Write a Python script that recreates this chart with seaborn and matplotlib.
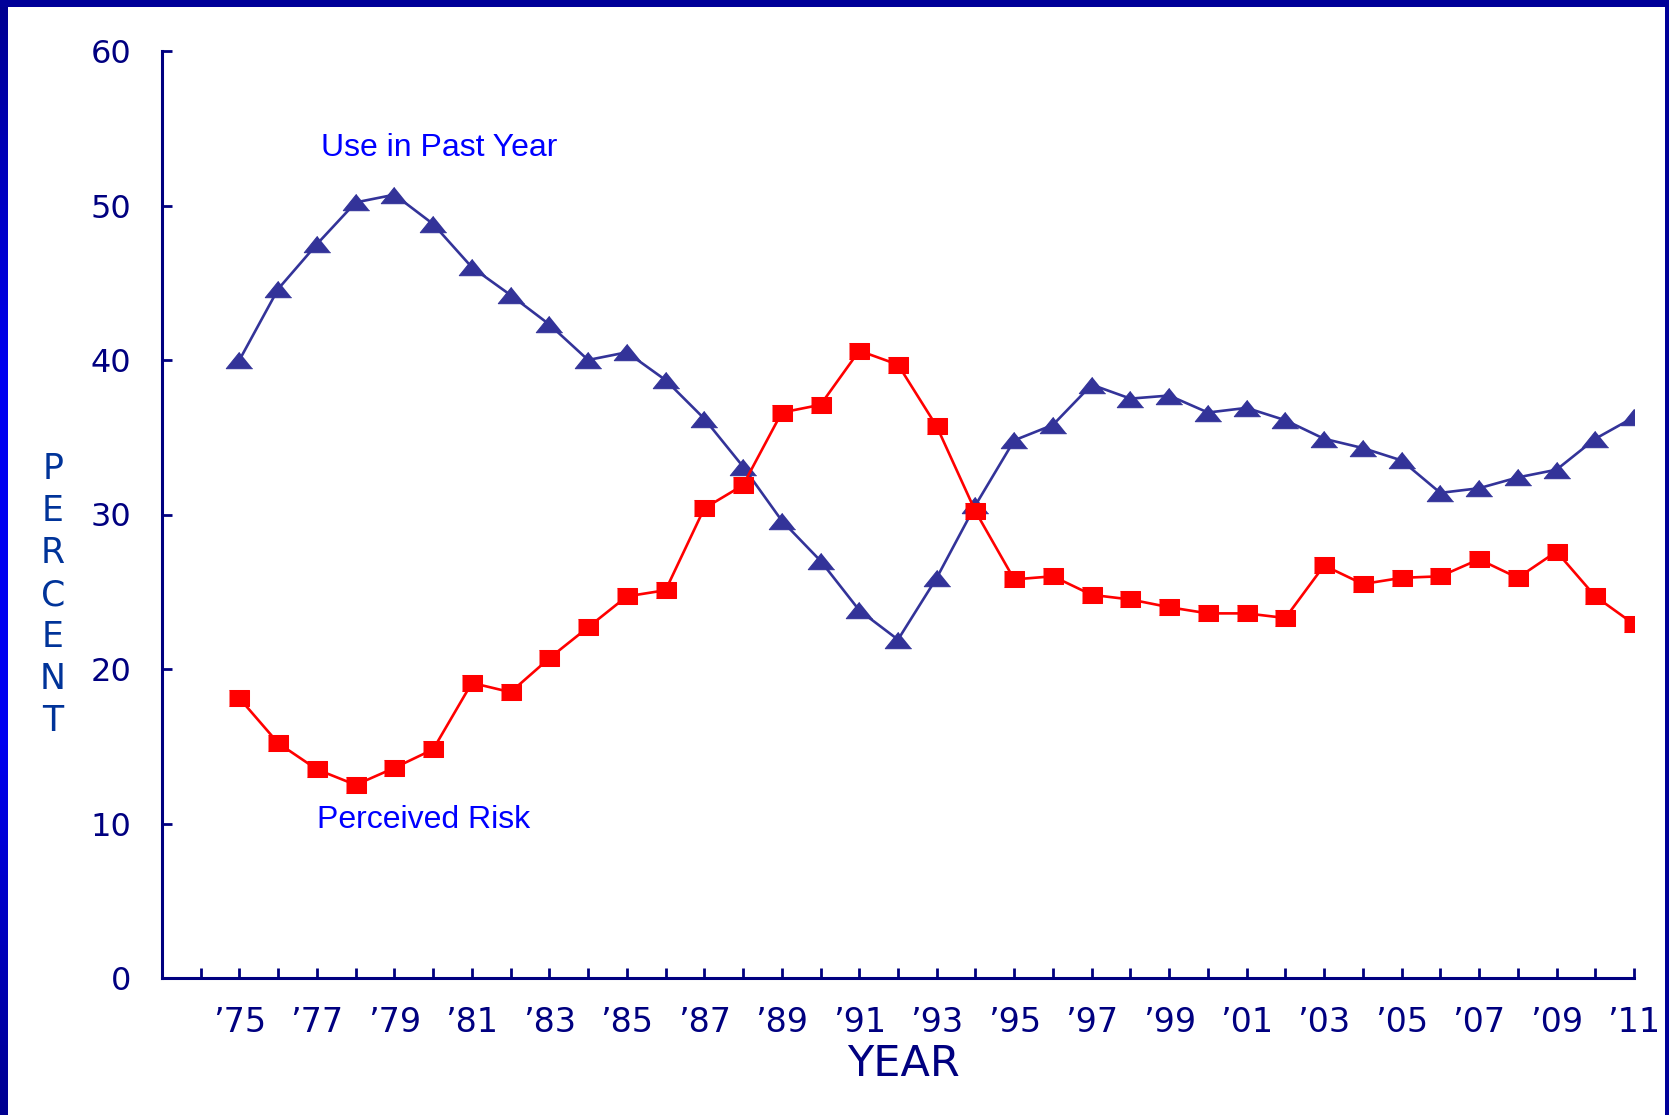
import numpy as np
import pandas as pd
import matplotlib
matplotlib.use("Agg")
import matplotlib.pyplot as plt
from matplotlib.colors import LinearSegmentedColormap
import seaborn as sns

years = list(range(1975, 2012))
use_past_year = [40.0, 44.6, 47.5, 50.2, 50.7, 48.8, 46.0, 44.2, 42.3, 40.0,
                 40.5, 38.7, 36.2, 33.1, 29.6, 27.0, 23.8, 21.9, 25.9, 30.6,
                 34.8, 35.8, 38.4, 37.5, 37.7, 36.6, 36.9, 36.1, 34.9, 34.3,
                 33.5, 31.4, 31.7, 32.4, 32.9, 34.9, 36.3]
perceived_risk = [18.1, 15.2, 13.5, 12.5, 13.6, 14.8, 19.1, 18.5, 20.7, 22.7,
                  24.7, 25.1, 30.4, 31.9, 36.6, 37.1, 40.6, 39.7, 35.7, 30.2,
                  25.8, 26.0, 24.8, 24.5, 24.0, 23.6, 23.6, 23.3, 26.7, 25.5,
                  25.9, 26.0, 27.1, 25.9, 27.6, 24.7, 22.9]
tick_years = list(range(1974, 2012))
tick_labels = ["\u2019%02d" % (y % 100) if y % 2 == 1 else "" for y in tick_years]
y_ticks = [0, 10, 20, 30, 40, 50, 60]

df = pd.DataFrame({"year": years, "use": use_past_year, "risk": perceived_risk})

sns.set_style("white")
plt.rcParams['font.family'] = ['DejaVu Sans']

W, H = 1669, 1115
fig = plt.figure(figsize=(W / 100, H / 100), dpi=100)
fig.patch.set_facecolor("white")

ax = fig.add_axes([162 / W, 1 - 978 / H, (1634 - 162) / W, (978 - 51) / H])

navy = "#000080"
tri_col = "#333399"
red = "#FF0000"

tri_marker = [(0, 0.62), (-1, -0.62), (1, -0.62)]
rect_marker = [(-1.25, -0.9), (1.25, -0.9), (1.25, 0.9), (-1.25, 0.9)]

sns.lineplot(data=df, x="year", y="use", ax=ax, color=tri_col, linewidth=1.9,
             marker=tri_marker, markersize=19, markeredgecolor=tri_col,
             markerfacecolor=tri_col, zorder=3)
sns.lineplot(data=df, x="year", y="risk", ax=ax, color=red, linewidth=1.9,
             marker=rect_marker, markersize=15, markeredgecolor=red,
             markerfacecolor=red, zorder=4)

ax.set_xlim(1973, 2011)
ax.set_ylim(0, 60)
ax.set_xticks(tick_years)
ax.set_xticklabels(tick_labels)
ax.set_yticks(y_ticks)
ax.set_yticklabels([str(v) for v in y_ticks])
ax.set_xlabel("")
ax.set_ylabel("")

for s in ["top", "right"]:
    ax.spines[s].set_visible(False)
for s in ["left", "bottom"]:
    ax.spines[s].set_color(navy)
    ax.spines[s].set_linewidth(2.2)

ax.tick_params(axis="x", bottom=True, direction="in", length=7, width=2, color=navy,
               labelcolor=navy, labelsize=24, pad=20)
ax.tick_params(axis="y", left=True, direction="in", length=7, width=2, color=navy,
               labelcolor=navy, labelsize=23, pad=22)
for lab in ax.get_xticklabels() + ax.get_yticklabels():
    lab.set_fontfamily(['DejaVu Sans'])

ax.text(1977.1, 53.7, "Use in Past Year", color="#0000FF", fontsize=23,
        family=["Liberation Sans"], va="center", ha="left")
ax.text(1977.0, 10.2, "Perceived Risk", color="#0000FF", fontsize=23,
        family=["Liberation Sans"], va="center", ha="left")

fig.text(53 / W, 1 - 595 / H, "P\nE\nR\nC\nE\nN\nT", color="#003399",
         fontsize=25, family=["DejaVu Sans"], ha="center", va="center",
         linespacing=1.3)
fig.text(903 / W, 1 - 1064 / H, "YEAR", color=navy, fontsize=31,
         family=["DejaVu Sans"], ha="center", va="center")

# frame
cmap = LinearSegmentedColormap.from_list("fr", ["#000090", "#0000F0", "#0000F0", "#000090"])
lax = fig.add_axes([0, 0, 7 / W, 1])
lax.imshow(np.linspace(0, 1, 256).reshape(-1, 1), aspect="auto", cmap=cmap)
lax.axis("off")
tax = fig.add_axes([0, 1 - 7 / H, 1, 7 / H])
tax.set_facecolor("#000099")
tax.set_xticks([]); tax.set_yticks([])
for s in tax.spines.values():
    s.set_visible(False)
rax = fig.add_axes([1 - 4 / W, 0, 4 / W, 1])
rax.set_facecolor("#000099")
rax.set_xticks([]); rax.set_yticks([])
for s in rax.spines.values():
    s.set_visible(False)

fig.savefig("out.png", dpi=100, facecolor="white")
